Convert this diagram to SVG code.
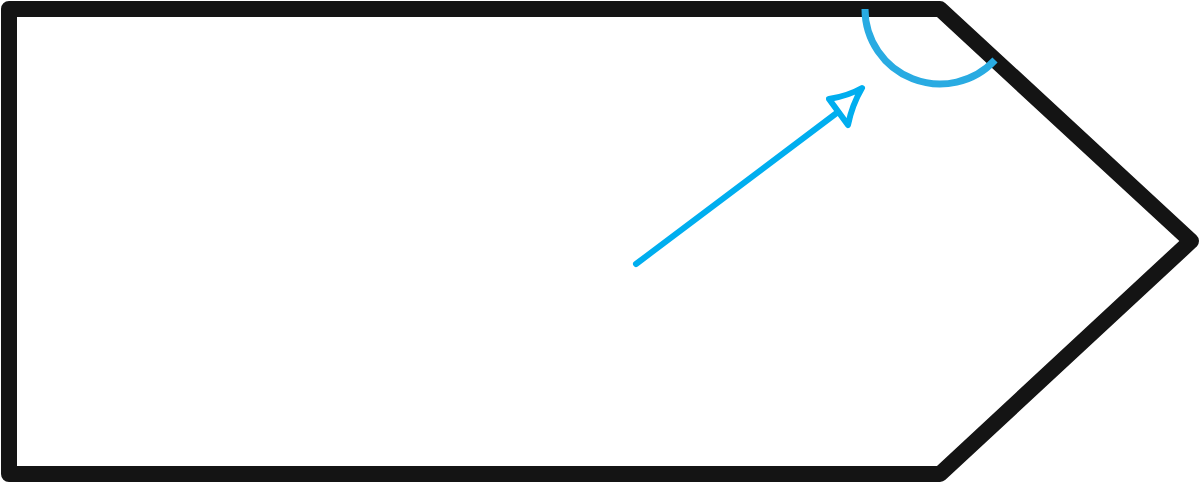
<svg xmlns="http://www.w3.org/2000/svg" width="1200" height="483" viewBox="0 0 1200 483">
<rect width="1200" height="483" fill="#fff"/>
<g id="shape"><path d="M9,9 H940 L1191,241 L940,474 H9 Z" fill="none" stroke="#141414" stroke-width="16" stroke-linejoin="round"/></g>
<g id="angle"><path d="M865,9 A75,75 0 0 0 995,60" fill="none" stroke="#29abe2" stroke-width="7"/></g>
<g id="connectors" stroke="#00aeef" stroke-width="6" fill="none" stroke-linecap="round" stroke-linejoin="round">
<line x1="636" y1="264" x2="838" y2="112"/>
<path d="M862,88 Q848,96 829,99 L848,125 Q852,105 862,88 Z"/>
</g>
</svg>
